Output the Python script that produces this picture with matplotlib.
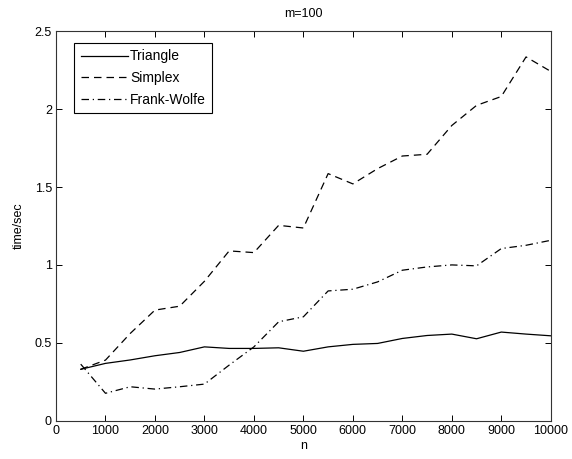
import numpy as np
import matplotlib
matplotlib.use('Agg')
import matplotlib.pyplot as plt

plt.rcParams['font.family'] = ['Liberation Sans', 'DejaVu Sans']
plt.rcParams['font.size'] = 9

n = [500, 1000, 1500, 2000, 2500, 3000, 3500, 4000, 4500, 5000,
     5500, 6000, 6500, 7000, 7500, 8000, 8500, 9000, 9500, 10000]
triangle = [0.33, 0.368, 0.39, 0.417, 0.438, 0.474, 0.464, 0.464, 0.468, 0.446,
            0.474, 0.49, 0.496, 0.528, 0.547, 0.556, 0.526, 0.569, 0.556, 0.545]
simplex = [0.33, 0.389, 0.56, 0.71, 0.735, 0.895, 1.09, 1.079, 1.254, 1.237,
           1.586, 1.52, 1.618, 1.699, 1.71, 1.895, 2.024, 2.081, 2.335, 2.242]
frank_wolfe = [0.363, 0.176, 0.218, 0.203, 0.218, 0.235, 0.357, 0.474, 0.635, 0.667,
               0.833, 0.844, 0.891, 0.966, 0.987, 1.0, 0.994, 1.105, 1.126, 1.158]

fig = plt.figure(figsize=(5.72, 4.59), dpi=100)
ax = fig.add_axes([0.0979, 0.0834, 0.865, 0.8486])

lw = 0.9
ax.plot(n, triangle, color='black', lw=lw, label='Triangle')
ax.plot(n, simplex, color='black', lw=lw, dashes=(6, 4), label='Simplex')
ax.plot(n, frank_wolfe, color='black', lw=lw, dashes=(6, 3, 1, 3), label='Frank-Wolfe')

ax.set_xlim(0, 10000)
ax.set_ylim(0, 2.5)
ax.set_xticks(np.arange(0, 10001, 1000))
ax.set_yticks(np.arange(0, 2.51, 0.5))
ax.set_yticklabels(['0', '0.5', '1', '1.5', '2', '2.5'])
ax.tick_params(direction='in', top=True, right=True, length=4, width=0.7, pad=3)
for s in ax.spines.values():
    s.set_linewidth(0.8)
    s.set_color('#333333')

ax.set_title('m=100', fontsize=9, pad=10)
ax.set_xlabel('n', labelpad=2)
ax.set_ylabel('time/sec', labelpad=7)

leg = ax.legend(loc='upper left', bbox_to_anchor=(0.023, 0.987), handlelength=3.4,
                handletextpad=0.15, borderpad=0.45, labelspacing=0.55,
                fancybox=False, framealpha=1, edgecolor='black', fontsize=10)
leg.get_frame().set_linewidth(0.8)

fig.savefig('out.png', dpi=100)
